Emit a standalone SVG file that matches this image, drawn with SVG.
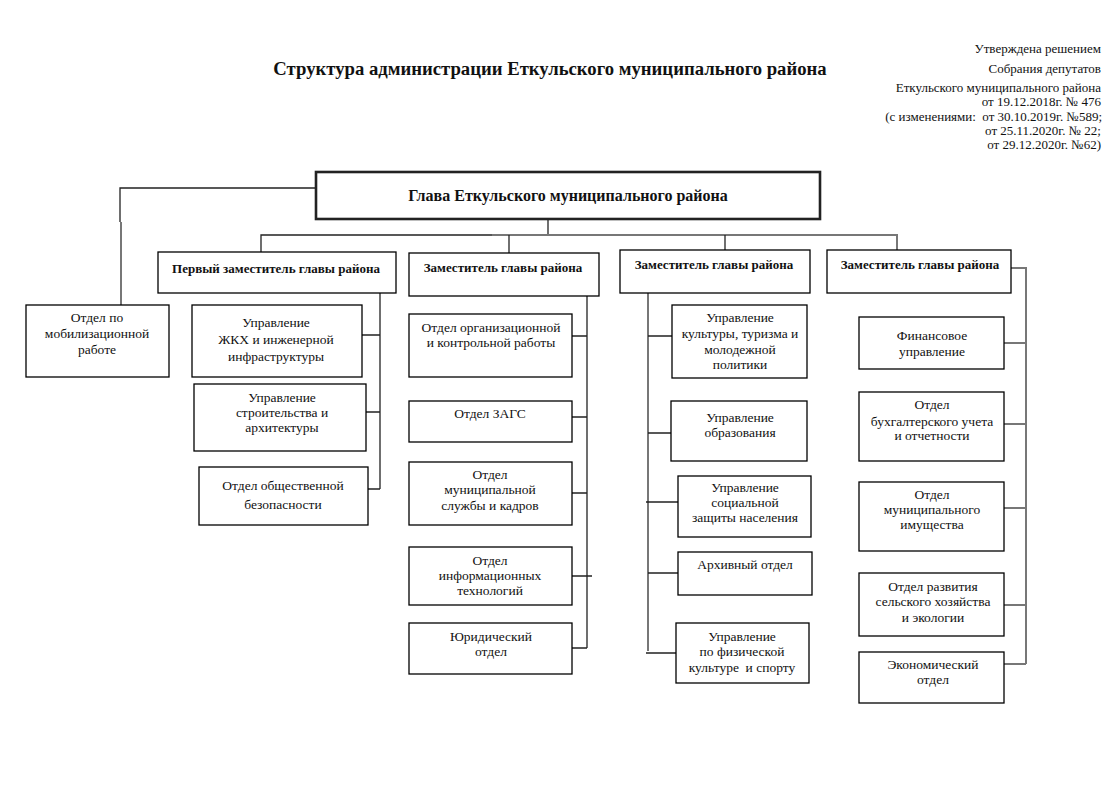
<svg xmlns="http://www.w3.org/2000/svg" width="1118" height="787" viewBox="0 0 1118 787">
<style>
text{font-family:"Liberation Serif","Times New Roman",serif;fill:#111}
.t{font-size:13.5px;text-anchor:middle}
.b{font-size:13px;font-weight:bold;text-anchor:middle}
.h{font-size:16px;font-weight:bold;text-anchor:middle}
.ttl{font-size:18.7px;font-weight:bold;text-anchor:middle}
.r{font-size:13px;text-anchor:end}
.box{fill:#fff;stroke:#000;stroke-width:1.3}
.head{fill:#fff;stroke:#222;stroke-width:2.6}
.c{fill:none;stroke:#222;stroke-width:1.3}
.g{fill:none;stroke:#777;stroke-width:2}
</style>
<rect width="1118" height="787" fill="#fff"/>
<text class="ttl" x="550" y="75">Структура администрации Еткульского муниципального района</text>
<g id="approval">
<text class="r" x="1101" y="53">Утверждена решением</text>
<text class="r" x="1101" y="73">Собрания депутатов</text>
<text class="r" x="1101" y="92">Еткульского муниципального района</text>
<text class="r" x="1101" y="106">от 19.12.2018г. № 476</text>
<text class="r" x="1102" y="121" xml:space="preserve">(с изменениями:  от 30.10.2019г. №589;</text>
<text class="r" x="1101" y="135">от 25.11.2020г. № 22;</text>
<text class="r" x="1101" y="149">от 29.12.2020г. №62)</text>
</g>
<g id="connectors">
<path class="c" d="M316,188 H120 V222"/>
<path class="g" d="M121,222 V305"/>
<path class="c" d="M548,219 V235"/>
<path class="c" d="M261,252 V235 H492"/>
<path class="g" d="M492,235 H897 V250"/>
<path class="c" d="M509,235 V253"/>
<path class="c" d="M725,235 V250"/>
<path class="c" d="M380,293 V489 M362,335 H380 M366,412 H380 M368,489 H380"/>
<path class="c" d="M587,296 V648 M572,336 H587 M572,417 H587 M572,493 H587 M572,576 H592 M572,648 H587"/>
<path class="g" d="M648,293 V651"/>
<path class="c" d="M648,336 H672 M648,433 H671 M646,502 H678 M648,573 H678 M646,653 H676"/>
<path class="g" d="M1011,268 H1026 V664 M1004,343 H1026 M1004,424 H1026 M1004,508 H1026 M1004,605 H1026 M1004,664 H1026"/>
</g>
<g id="head"><rect class="head" x="316" y="172" width="504" height="47"/><text class="h" x="568" y="201">Глава Еткульского муниципального района</text></g>
<g id="dep1"><rect class="box" x="158" y="252" width="238" height="41"/><text class="b" x="276" y="273">Первый заместитель главы района</text></g>
<g id="dep2"><rect class="box" x="409" y="253" width="190" height="43"/><text class="b" x="503" y="272">Заместитель главы района</text></g>
<g id="dep3"><rect class="box" x="620" y="250" width="190" height="43"/><text class="b" x="714" y="269">Заместитель главы района</text></g>
<g id="dep4"><rect class="box" x="827" y="250" width="184" height="43"/><text class="b" x="920" y="269">Заместитель главы района</text></g>
<g id="mobil"><rect class="box" x="26" y="305" width="143" height="72"/><text class="t" x="97" y="322">Отдел по</text><text class="t" x="97" y="338">мобилизационной</text><text class="t" x="97" y="354">работе</text></g>
<g id="zhkh"><rect class="box" x="192" y="305" width="170" height="72"/><text class="t" x="276" y="327">Управление</text><text class="t" x="276" y="344">ЖКХ и инженерной</text><text class="t" x="276" y="361">инфраструктуры</text></g>
<g id="stroy"><rect class="box" x="194" y="384" width="172" height="67"/><text class="t" x="282" y="402">Управление</text><text class="t" x="282" y="417">строительства и</text><text class="t" x="282" y="432">архитектуры</text></g>
<g id="bezop"><rect class="box" x="199" y="467" width="169" height="58"/><text class="t" x="283" y="490">Отдел общественной</text><text class="t" x="283" y="509">безопасности</text></g>
<g id="orgkontr"><rect class="box" x="409" y="314" width="163" height="63"/><text class="t" x="491" y="332">Отдел организационной</text><text class="t" x="491" y="347">и контрольной работы</text></g>
<g id="zags"><rect class="box" x="409" y="401" width="163" height="41"/><text class="t" x="490" y="418">Отдел ЗАГС</text></g>
<g id="kadry"><rect class="box" x="409" y="462" width="163" height="63"/><text class="t" x="490" y="479">Отдел</text><text class="t" x="490" y="494">муниципальной</text><text class="t" x="490" y="510">службы и кадров</text></g>
<g id="it"><rect class="box" x="409" y="547" width="163" height="58"/><text class="t" x="490" y="565">Отдел</text><text class="t" x="490" y="580">информационных</text><text class="t" x="490" y="595">технологий</text></g>
<g id="yur"><rect class="box" x="409" y="623" width="163" height="51"/><text class="t" x="491" y="641">Юридический</text><text class="t" x="491" y="656">отдел</text></g>
<g id="kultura"><rect class="box" x="672" y="305" width="135" height="73"/><text class="t" x="740" y="322">Управление</text><text class="t" x="740" y="338">культуры, туризма и</text><text class="t" x="740" y="354">молодежной</text><text class="t" x="740" y="369">политики</text></g>
<g id="obraz"><rect class="box" x="671" y="401" width="136" height="60"/><text class="t" x="740" y="422">Управление</text><text class="t" x="740" y="437">образования</text></g>
<g id="soczash"><rect class="box" x="678" y="476" width="133" height="61"/><text class="t" x="745" y="492">Управление</text><text class="t" x="745" y="507">социальной</text><text class="t" x="745" y="522">защиты населения</text></g>
<g id="arhiv"><rect class="box" x="678" y="552" width="134" height="43"/><text class="t" x="745" y="569">Архивный отдел</text></g>
<g id="sport"><rect class="box" x="676" y="623" width="133" height="60"/><text class="t" x="742" y="641">Управление</text><text class="t" x="742" y="656">по физической</text><text class="t" x="742" y="672" xml:space="preserve">культуре  и спорту</text></g>
<g id="fin"><rect class="box" x="859" y="317" width="145" height="52"/><text class="t" x="932" y="340">Финансовое</text><text class="t" x="932" y="356">управление</text></g>
<g id="buh"><rect class="box" x="859" y="392" width="145" height="69"/><text class="t" x="932" y="409">Отдел</text><text class="t" x="932" y="426">бухгалтерского учета</text><text class="t" x="932" y="440">и отчетности</text></g>
<g id="imush"><rect class="box" x="859" y="482" width="145" height="69"/><text class="t" x="932" y="499">Отдел</text><text class="t" x="932" y="514">муниципального</text><text class="t" x="932" y="529">имущества</text></g>
<g id="selhoz"><rect class="box" x="859" y="573" width="145" height="63"/><text class="t" x="933" y="591">Отдел развития</text><text class="t" x="933" y="606">сельского хозяйства</text><text class="t" x="933" y="622">и экологии</text></g>
<g id="ekon"><rect class="box" x="859" y="652" width="145" height="51"/><text class="t" x="933" y="669">Экономический</text><text class="t" x="933" y="684">отдел</text></g>
</svg>
